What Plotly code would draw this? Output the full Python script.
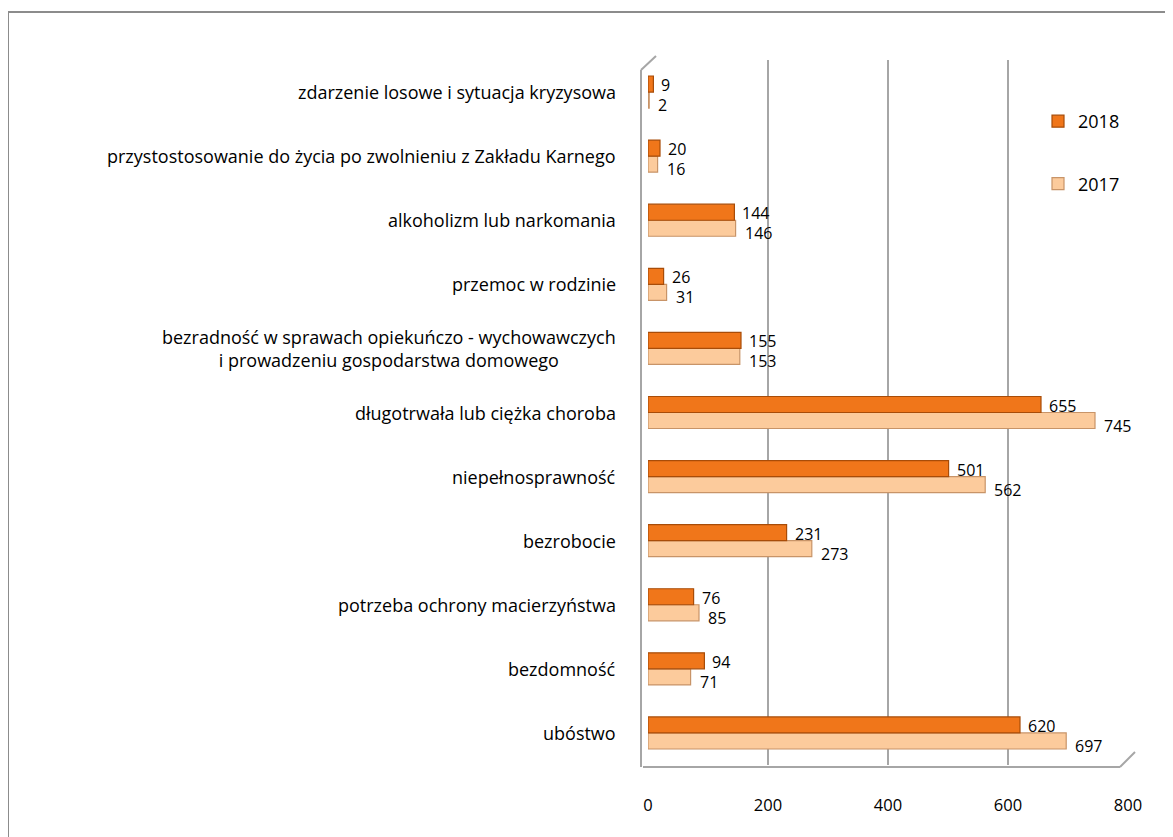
import plotly.graph_objects as go

categories = [
    "ubóstwo",
    "bezdomność",
    "potrzeba ochrony macierzyństwa",
    "bezrobocie",
    "niepełnosprawność",
    "długotrwała lub ciężka choroba",
    "bezradność w sprawach opiekuńczo - wychowawczych<br>i prowadzeniu gospodarstwa domowego",
    "przemoc w rodzinie",
    "alkoholizm lub narkomania",
    "przystostosowanie do życia po zwolnieniu z Zakładu Karnego",
    "zdarzenie losowe i sytuacja kryzysowa",
]
values_2018 = [620, 94, 76, 231, 501, 655, 155, 26, 144, 20, 9]
values_2017 = [697, 71, 85, 273, 562, 745, 153, 31, 146, 16, 2]
x_ticks = [0, 200, 400, 600, 800]

FONT = "Open Sans"
idx = list(range(len(categories)))

fig = go.Figure()
fig.add_trace(go.Bar(
    y=idx, x=values_2017, orientation="h", name="2017",
    marker=dict(color="#FCCB9C", line=dict(color="#C89468", width=1.2)),
    legendgroup="a", legendrank=2,
))
fig.add_trace(go.Bar(
    y=idx, x=values_2018, orientation="h", name="2018",
    marker=dict(color="#F0761A", line=dict(color="#A84C08", width=1.2)),
    legendgroup="b", legendrank=1,
))

annotations = []
for i, c in zip(idx, categories):
    annotations.append(dict(
        x=0, xref="paper", y=i, yref="y", text=c, showarrow=False,
        xanchor="right", yanchor="middle", align="center", xshift=-30,
        font=dict(size=18, color="black", family=FONT),
    ))
# value labels
for i, v in zip(idx, values_2018):
    annotations.append(dict(
        x=v, xref="x", y=i, yref="y", text=str(v), showarrow=False,
        xanchor="left", yanchor="middle", xshift=6, yshift=7,
        font=dict(size=16, color="black", family=FONT),
    ))
for i, v in zip(idx, values_2017):
    annotations.append(dict(
        x=v, xref="x", y=i, yref="y", text=str(v), showarrow=False,
        xanchor="left", yanchor="middle", xshift=7, yshift=-13,
        font=dict(size=16, color="black", family=FONT),
    ))

# page has an 8px body margin; screen px -> figure px
OFF = 8
L, R = 648 - OFF, 1128 - OFF
T, B = 60 - OFF, 765 - OFF


def px2x(px):
    return (px - OFF - L) / float(R - L)


def py2y(py):
    return (B - (py - OFF)) / float(B - T)


shapes = [
    # outer border
    dict(type="rect", xref="paper", yref="paper",
         x0=px2x(8), x1=px2x(1195), y0=py2y(860), y1=py2y(12),
         line=dict(color="#8C8C8C", width=2), layer="below"),
    # floor front line
    dict(type="line", xref="paper", yref="paper",
         x0=px2x(643), x1=px2x(1120), y0=py2y(767), y1=py2y(767),
         line=dict(color="#A6A6A6", width=2)),
    # floor right diagonal
    dict(type="line", xref="paper", yref="paper",
         x0=px2x(1120), x1=px2x(1135), y0=py2y(767), y1=py2y(752),
         line=dict(color="#A6A6A6", width=2)),
    # left wall front edge
    dict(type="line", xref="paper", yref="paper",
         x0=px2x(641), x1=px2x(641), y0=py2y(767), y1=py2y(70),
         line=dict(color="#A6A6A6", width=2)),
    dict(type="line", xref="paper", yref="paper",
         x0=px2x(641), x1=px2x(656), y0=py2y(70), y1=py2y(56),
         line=dict(color="#A6A6A6", width=2)),
]

fig.update_layout(
    width=1173, height=837,
    margin=dict(l=L, r=1173 - R, t=T, b=837 - B),
    paper_bgcolor="white", plot_bgcolor="white",
    barmode="group", bargap=0.5, bargroupgap=0.0,
    font=dict(family=FONT, size=16, color="black"),
    xaxis=dict(range=[0, 800], tickvals=x_ticks, showgrid=True,
               gridcolor="#A6A6A6", gridwidth=2, zeroline=False,
               showline=False, ticklabelstandoff=28,
               tickfont=dict(size=16.5, family=FONT, color="black")),
    yaxis=dict(range=[-0.5, len(categories) - 0.5], showticklabels=False,
               showgrid=False, zeroline=False, showline=False),
    legend=dict(x=px2x(1038), y=py2y(103), xanchor="left", yanchor="top",
                traceorder="grouped", tracegroupgap=36,
                bgcolor="rgba(0,0,0,0)",
                font=dict(size=18, family=FONT, color="black")),
    annotations=annotations,
    shapes=shapes,
)

fig.write_html("out.html")
